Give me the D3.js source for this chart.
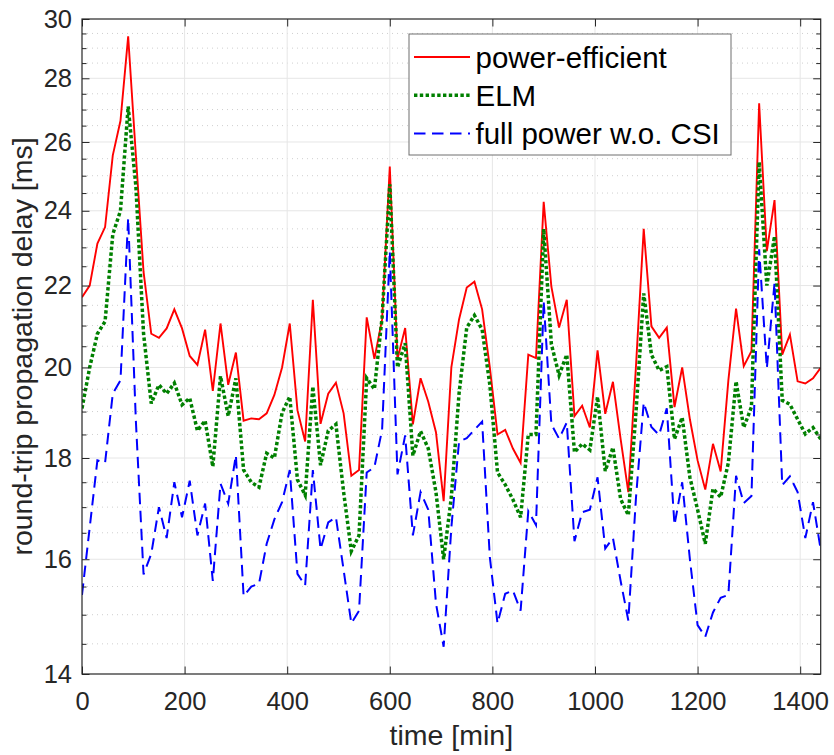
<!DOCTYPE html>
<html>
<head>
<meta charset="utf-8">
<script src="https://cdn.jsdelivr.net/npm/d3@7"></script>
<style>
  body { margin: 0; background: #fff; }
  text { font-family: "Liberation Sans", Arial, Helvetica, sans-serif; }
</style>
</head>
<body>
<div id="chart"></div>
<script>

// time of day [min], one sample every 15 min
var times = [0, 15, 30, 45, 60, 75, 90, 105, 120, 135, 150, 165, 180, 195, 210, 225,
  240, 255, 270, 285, 300, 315, 330, 345, 360, 375, 390, 405, 420, 435, 450, 465,
  480, 495, 510, 525, 540, 555, 570, 585, 600, 615, 630, 645, 660, 675, 690, 705,
  720, 735, 750, 765, 780, 795, 810, 825, 840, 855, 870, 885, 900, 915, 930, 945,
  960, 975, 990, 1005, 1020, 1035, 1050, 1065, 1080, 1095, 1110, 1125, 1140, 1155, 1170, 1185,
  1200, 1215, 1230, 1245, 1260, 1275, 1290, 1305, 1320, 1335, 1350, 1365, 1380, 1395, 1410, 1425,
  1440];

var powerEfficient = [21.7, 22.0, 23.1, 23.55, 25.6, 26.65, 29.4, 25.6, 22.35, 20.8, 20.7, 20.93, 21.4, 20.93, 20.27, 20.06,
  20.9, 19.46, 21.05, 19.6, 20.35, 18.8, 18.85, 18.83, 18.96, 19.37, 20.0, 21.05, 19.03, 18.35, 21.64, 18.73,
  19.4, 19.65, 18.96, 17.63, 17.75, 21.2, 20.2, 21.15, 25.27, 20.2, 20.94, 18.72, 19.75, 19.22, 18.55, 17.12,
  20.0, 21.15, 21.95, 22.1, 21.4, 20.0, 18.5, 18.6, 18.2, 17.9, 20.3, 20.22, 24.25, 21.97, 20.95, 21.64,
  18.9, 19.13, 18.65, 20.4, 18.95, 19.67, 18.4, 17.3, 20.05, 23.5, 20.98, 20.7, 20.95, 19.1, 20.0, 18.83,
  17.95, 17.35, 18.3, 17.72, 19.7, 21.42, 20.03, 20.38, 27.2, 22.9, 24.3, 20.3, 20.78, 19.68, 19.63, 19.75,
  19.99];

var elm = [19.07, 20.0, 20.8, 21.1, 23.35, 24.0, 27.1, 24.7, 20.8, 19.18, 19.6, 19.4, 19.64, 19.15, 19.3, 18.58,
  18.8, 17.82, 19.8, 18.9, 19.75, 17.75, 17.5, 17.4, 18.1, 18.0, 18.97, 19.33, 17.55, 17.24, 19.56, 17.85,
  18.58, 18.72, 17.3, 16.15, 16.45, 19.75, 19.5, 21.2, 24.75, 20.0, 20.57, 18.05, 18.57, 18.2, 17.3, 16.0,
  17.2, 19.4, 20.95, 21.25, 20.9, 19.6, 17.7, 17.45, 17.15, 16.8, 18.5, 18.5, 23.5, 20.55, 19.82, 20.3,
  18.12, 18.3, 18.17, 19.33, 17.73, 18.22, 17.16, 16.84, 19.0, 21.8, 20.3, 19.93, 20.02, 18.4, 18.87, 17.6,
  16.95, 16.29, 17.37, 17.2, 17.9, 19.68, 18.65, 19.1, 25.4, 22.0, 23.3, 19.25, 19.16, 18.83, 18.51, 18.65,
  18.4];

var fullPower = [15.35, 16.6, 17.95, 17.9, 19.4, 19.7, 23.8, 18.8, 15.72, 16.1, 17.0, 16.4, 17.5, 16.8, 17.53, 16.45,
  17.07, 15.6, 17.47, 17.07, 18.06, 15.33, 15.5, 15.55, 16.29, 16.76, 17.1, 17.75, 15.73, 15.52, 17.75, 16.19,
  16.7, 16.8, 15.8, 14.85, 15.07, 17.7, 17.81, 18.6, 22.9, 17.66, 18.48, 16.45, 17.3, 16.95, 15.2, 14.45,
  16.6, 18.35, 18.42, 18.6, 18.78, 16.04, 14.85, 15.37, 15.43, 15.07, 16.92, 16.65, 21.6, 18.72, 18.41, 18.76,
  16.34, 16.9, 16.95, 17.6, 16.2, 16.4, 15.6, 14.9, 17.2, 19.2, 18.66, 18.49, 19.07, 16.65, 17.5, 16.0,
  14.82, 14.62, 15.04, 15.3, 15.35, 17.63, 17.08, 17.22, 22.95, 19.98, 22.07, 17.44, 17.62, 17.3, 16.4, 17.1,
  16.18];

var seriesNames = ["power-efficient", "ELM", "full power w.o. CSI"];
var xTicks = [0, 200, 400, 600, 800, 1000, 1200, 1400];
var yTicks = [14, 16, 18, 20, 22, 24, 26, 28, 30];

var width = 834, height = 755;
var plotLeft = 82, plotRight = 820.7, plotTop = 19, plotBottom = 674;

var x = d3.scaleLinear().domain([0, 1440]).range([plotLeft, plotRight]);
var y = d3.scaleLog().domain([14, 30]).range([plotBottom, plotTop]);

// minor ticks every 0.5 ms between the labelled ones
var yMinor = d3.range(14.5, 30, 0.5).filter(function(v) { return v % 2 !== 0; });

var styles = [
  { color: "#ff0000", width: 1.9, dash: null },
  { color: "#008000", width: 3.5, dash: "3.4,2.4" },
  { color: "#0000ff", width: 2, dash: "11.5,6.5" }
];

var svg = d3.select("#chart")
  .append("svg")
  .attr("width", width)
  .attr("height", height);

svg.append("rect").attr("width", width).attr("height", height).attr("fill", "#fff");

// grid
var grid = svg.append("g");
grid.selectAll(".minor")
  .data(yMinor)
  .enter()
    .append("line")
    .attr("x1", plotLeft).attr("x2", plotRight)
    .attr("y1", function(d) { return y(d); })
    .attr("y2", function(d) { return y(d); })
    .attr("stroke", "#cfcfcf")
    .attr("stroke-width", 1)
    .attr("stroke-dasharray", "1,4");
grid.selectAll(".gy")
  .data(yTicks.slice(1, -1))
  .enter()
    .append("line")
    .attr("x1", plotLeft).attr("x2", plotRight)
    .attr("y1", function(d) { return y(d); })
    .attr("y2", function(d) { return y(d); })
    .attr("stroke", "#e6e6e6")
    .attr("stroke-width", 1);
grid.selectAll(".gx")
  .data(xTicks.slice(1))
  .enter()
    .append("line")
    .attr("y1", plotTop).attr("y2", plotBottom)
    .attr("x1", function(d) { return x(d); })
    .attr("x2", function(d) { return x(d); })
    .attr("stroke", "#e6e6e6")
    .attr("stroke-width", 1);

// series
svg.append("clipPath").attr("id", "clip")
  .append("rect")
  .attr("x", plotLeft).attr("y", plotTop)
  .attr("width", plotRight - plotLeft).attr("height", plotBottom - plotTop);

var line = d3.line()
  .x(function(d, i) { return x(times[i]); })
  .y(function(d) { return y(d); });

[powerEfficient, elm, fullPower].forEach(function(values, k) {
  svg.append("path")
    .datum(values)
    .attr("clip-path", "url(#clip)")
    .attr("fill", "none")
    .attr("stroke", styles[k].color)
    .attr("stroke-width", styles[k].width)
    .attr("stroke-dasharray", styles[k].dash)
    .attr("stroke-linejoin", "miter")
    .attr("d", line);
});

// axes, ticks pointing inwards
function style(g, labels) {
  g.select(".domain").remove();
  g.selectAll(".tick line").attr("stroke", "#262626").attr("stroke-width", 1);
  g.selectAll(".tick text")
    .attr("fill", "#262626")
    .style("font-size", "25.5px")
    .style("display", labels ? null : "none");
}

svg.append("g")
  .attr("transform", "translate(0," + plotBottom + ")")
  .call(d3.axisBottom(x).tickValues(xTicks).tickSize(-7.5).tickPadding(18).tickFormat(d3.format("d")))
  .call(style, true);
svg.append("g")
  .attr("transform", "translate(0," + plotTop + ")")
  .call(d3.axisTop(x).tickValues(xTicks).tickSize(-7.5))
  .call(style, false);
svg.append("g")
  .attr("transform", "translate(" + plotLeft + ",0)")
  .call(d3.axisLeft(y).tickValues(yTicks).tickSize(-7.5).tickPadding(10).tickFormat(d3.format("d")))
  .call(style, true);
svg.append("g")
  .attr("transform", "translate(" + plotRight + ",0)")
  .call(d3.axisRight(y).tickValues(yTicks).tickSize(-7.5))
  .call(style, false);
svg.append("g")
  .attr("transform", "translate(" + plotLeft + ",0)")
  .call(d3.axisLeft(y).tickValues(yMinor).tickSize(-4.5))
  .call(style, false);
svg.append("g")
  .attr("transform", "translate(" + plotRight + ",0)")
  .call(d3.axisRight(y).tickValues(yMinor).tickSize(-4.5))
  .call(style, false);

svg.append("rect")
  .attr("x", plotLeft).attr("y", plotTop)
  .attr("width", plotRight - plotLeft).attr("height", plotBottom - plotTop)
  .attr("fill", "none")
  .attr("stroke", "#262626")
  .attr("stroke-width", 1.2);

// axis titles
svg.append("text")
  .attr("x", (plotLeft + plotRight) / 2)
  .attr("y", 745)
  .attr("text-anchor", "middle")
  .attr("fill", "#262626")
  .style("font-size", "28.5px")
  .text("time [min]");

svg.append("text")
  .attr("transform", "translate(32," + ((plotTop + plotBottom) / 2) + ") rotate(-90)")
  .attr("text-anchor", "middle")
  .attr("fill", "#262626")
  .style("font-size", "28.5px")
  .text("round-trip propagation delay [ms]");

// legend
var legend = svg.append("g");
legend.append("rect")
  .attr("x", 409).attr("y", 34)
  .attr("width", 322).attr("height", 121)
  .attr("fill", "#fff")
  .attr("stroke", "#6e6e6e")
  .attr("stroke-width", 1);

var rows = legend.selectAll(".row")
  .data(seriesNames)
  .enter()
    .append("g")
    .attr("transform", function(d, i) { return "translate(0," + (57 + i * 38.2) + ")"; });

rows.append("line")
  .attr("x1", 414).attr("x2", 470)
  .attr("stroke", function(d, i) { return styles[i].color; })
  .attr("stroke-width", function(d, i) { return styles[i].width; })
  .attr("stroke-dasharray", function(d, i) { return styles[i].dash; });

rows.append("text")
  .attr("x", 475.5)
  .attr("y", 10.5)
  .attr("fill", "#000")
  .style("font-size", "29.5px")
  .text(function(d) { return d; });

</script>
</body>
</html>
